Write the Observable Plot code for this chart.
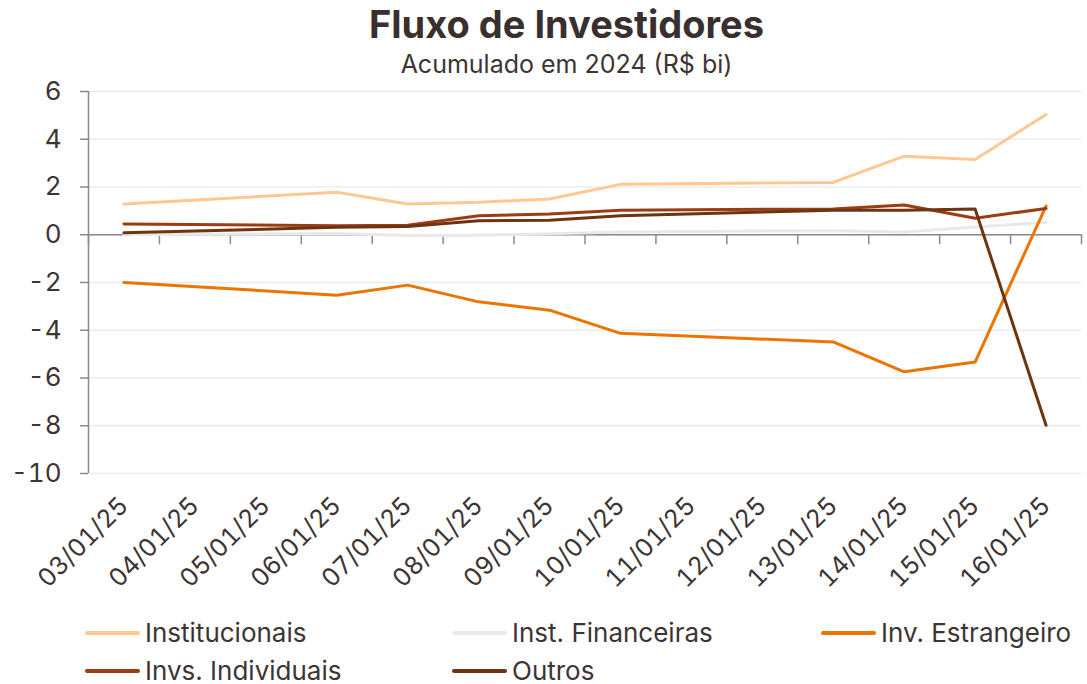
<!DOCTYPE html>
<html>
<head>
<meta charset="utf-8">
<script src="https://cdn.jsdelivr.net/npm/d3@7"></script>
<script src="https://cdn.jsdelivr.net/npm/@observablehq/plot@0.6"></script>
<style>
  html, body { margin: 0; padding: 0; background: #fff; }
  body { width: 1087px; height: 684px; font-family: Inter, "Noto Sans", sans-serif; color: #3d3434; position: relative; overflow: hidden; }
  #title { position: absolute; left: 46px; width: 1041px; top: 0px; text-align: center; font-size: 38px; font-weight: 700; line-height: 48px; color: #3a2f2f; }
  #subtitle { position: absolute; left: 46px; width: 1041px; top: 49px; text-align: center; font-size: 25px; line-height: 30px; }
  #chart { position: absolute; left: 0; top: 80px; }
  .leg { position: absolute; display: flex; align-items: center; font-size: 26px; line-height: 24px; white-space: nowrap; }
  .leg .sw { width: 55px; height: 4px; margin-right: 5px; border-radius: 2px; }
</style>
</head>
<body>
<div id="title">Fluxo de Investidores</div>
<div id="subtitle">Acumulado em 2024 (R$ bi)</div>
<div id="chart"></div>
<div id="legend"></div>
<script>
// Category labels for the x axis (all calendar days)
const dateLabels = ["03/01/25","04/01/25","05/01/25","06/01/25","07/01/25","08/01/25","09/01/25","10/01/25","11/01/25","12/01/25","13/01/25","14/01/25","15/01/25","16/01/25"];
// Trading days that carry data
const tradeDates = ["03/01/25","06/01/25","07/01/25","08/01/25","09/01/25","10/01/25","13/01/25","14/01/25","15/01/25","16/01/25"];

const seriesNames = ["Institucionais","Inst. Financeiras","Inv. Estrangeiro","Invs. Individuais","Outros"];
const seriesColors = ["#FFC892","#E9E9E9","#EC7400","#9B3C12","#6D3410"];

const institucionais  = [1.29, 1.78, 1.29, 1.36, 1.50, 2.11, 2.19, 3.29, 3.15, 5.04];
const instFinanceiras = [0.00, 0.05, -0.03, -0.02, 0.04, 0.12, 0.17, 0.12, 0.32, 0.52];
const invEstrangeiro  = [-2.00, -2.53, -2.11, -2.81, -3.16, -4.13, -4.49, -5.74, -5.33, 1.20];
const invsIndividuais = [0.45, 0.38, 0.40, 0.80, 0.87, 1.03, 1.08, 1.25, 0.69, 1.10];
const outros          = [0.08, 0.31, 0.35, 0.59, 0.61, 0.80, 1.03, 1.03, 1.08, -7.98];

const yTicks = [-10, -8, -6, -4, -2, 0, 2, 4, 6];

const seriesValues = [institucionais, instFinanceiras, invEstrangeiro, invsIndividuais, outros];
const rows = [];
seriesNames.forEach((name, s) => {
  tradeDates.forEach((d, i) => {
    rows.push({series: name, x: dateLabels.indexOf(d), value: seriesValues[s][i]});
  });
});
const idx = dateLabels.map((_, i) => i);
const boundaries = d3.range(-0.5, dateLabels.length, 1);

const chart = Plot.plot({
  width: 1087,
  height: 525,
  marginLeft: 88,
  marginRight: 6,
  marginTop: 11,
  marginBottom: 132,
  style: {fontFamily: "Inter, 'Noto Sans', sans-serif", color: "#3d3434", background: "#fff", overflow: "visible"},
  x: {domain: [-0.5, dateLabels.length - 0.5], axis: null},
  y: {domain: [-10, 6], axis: null},
  color: {domain: seriesNames, range: seriesColors},
  marks: [
    Plot.gridY(yTicks, {stroke: "#ececec", strokeOpacity: 1, strokeWidth: 1.5}),
    Plot.axisY(yTicks, {label: null, tickSize: 8, tickPadding: 19, fontSize: 26, stroke: "#8a8a8a", strokeWidth: 1.5, color: "#3d3434", tickFormat: d => String(d)}),
    Plot.ruleX([-0.5], {stroke: "#8a8a8a", strokeWidth: 1.5}),
    Plot.ruleY([0], {stroke: "#8a8a8a", strokeWidth: 1.5}),
    Plot.ruleX(boundaries, {x: d => d, y1: 0, y2: -0.42, stroke: "#8a8a8a", strokeWidth: 1.5}),
    Plot.axisX(idx, {label: null, anchor: "bottom", tickSize: 0, tickPadding: 28, tickRotate: -45, fontSize: 25, tickFormat: i => dateLabels[i], color: "#3d3434"}),
    Plot.line(rows, {x: "x", y: "value", z: "series", stroke: "series", strokeWidth: 3, strokeLinejoin: "round", strokeLinecap: "round"})
  ]
});
document.getElementById("chart").appendChild(chart);

// Legend
const legendPos = [
  {left: 85, top: 621}, {left: 452, top: 621}, {left: 821, top: 621},
  {left: 85, top: 659}, {left: 452, top: 659}
];
const legend = document.getElementById("legend");
seriesNames.forEach((name, i) => {
  const el = document.createElement("div");
  el.className = "leg";
  el.style.left = legendPos[i].left + "px";
  el.style.top = legendPos[i].top + "px";
  el.innerHTML = `<span class="sw" style="background:${seriesColors[i]}"></span><span>${name}</span>`;
  legend.appendChild(el);
});
</script>
</body>
</html>
